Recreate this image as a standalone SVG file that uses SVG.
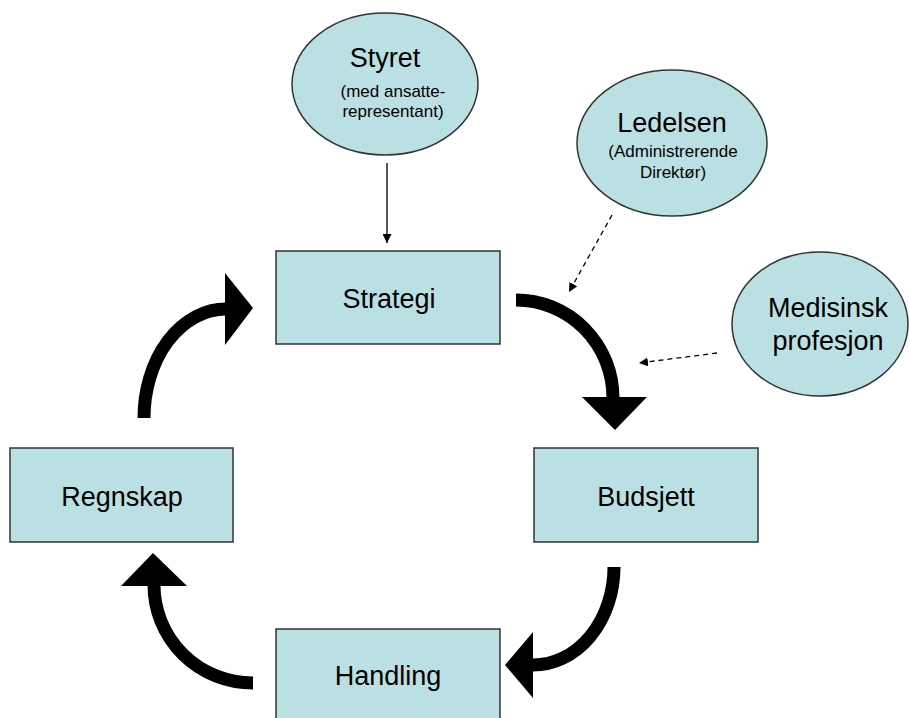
<svg xmlns="http://www.w3.org/2000/svg" width="909" height="718" viewBox="0 0 909 718">
<defs>
<style>
.box{fill:#bae0e3;stroke:#333;stroke-width:1.5}
.lbl{font-family:"Liberation Sans",Arial,sans-serif;fill:#000;text-anchor:middle}
.big{font-size:27px}
.small{font-size:17px}
.thick{fill:none;stroke:#000;stroke-width:13}
.thin{fill:none;stroke:#000;stroke-width:1.3}
.dash{fill:none;stroke:#000;stroke-width:1.3;stroke-dasharray:5,4}
</style>
<marker id="ah" viewBox="0 0 10 10" refX="10" refY="5" markerWidth="9" markerHeight="9" markerUnits="userSpaceOnUse" orient="auto">
<path d="M0,0 L10,5 L0,10 z" fill="#000"/>
</marker>
</defs>
<rect width="909" height="718" fill="#fff"/>
<g id="styret">
<ellipse class="box" cx="385" cy="84" rx="93" ry="71"/>
<text class="lbl big" x="385" y="67">Styret</text>
<text class="lbl small" x="393" y="97">(med ansatte-</text>
<text class="lbl small" x="393" y="117">representant)</text>
</g>
<g id="ledelsen">
<ellipse class="box" cx="672" cy="143" rx="95" ry="73"/>
<text class="lbl big" x="672" y="132">Ledelsen</text>
<text class="lbl small" x="673" y="157">(Administrerende</text>
<text class="lbl small" x="673" y="178">Direktør)</text>
</g>
<g id="medisinsk">
<ellipse class="box" cx="820" cy="324" rx="88" ry="72"/>
<text class="lbl big" x="828" y="317">Medisinsk</text>
<text class="lbl big" x="828" y="350">profesjon</text>
</g>
<g id="strategi">
<rect class="box" x="276" y="251" width="224" height="93"/>
<text class="lbl big" x="389" y="308">Strategi</text>
</g>
<g id="budsjett">
<rect class="box" x="534" y="448" width="224" height="94"/>
<text class="lbl big" x="646" y="506">Budsjett</text>
</g>
<g id="regnskap">
<rect class="box" x="10" y="448" width="223" height="94"/>
<text class="lbl big" x="122" y="506">Regnskap</text>
</g>
<g id="handling">
<rect class="box" x="276" y="629" width="224" height="95"/>
<text class="lbl big" x="388" y="685">Handling</text>
</g>
<g id="connectors">
<line class="thin" x1="387" y1="163" x2="387" y2="243" marker-end="url(#ah)"/>
<line class="dash" x1="612" y1="215" x2="569" y2="292" marker-end="url(#ah)"/>
<line class="dash" x1="717" y1="353" x2="639" y2="363" marker-end="url(#ah)"/>
<path class="thick" d="M516,300 A97,98 0 0 1 613,398"/>
<polygon points="582,397 647,397 615,430" fill="#000"/>
<path class="thick" d="M614,567 A81,98 0 0 1 533,665"/>
<polygon points="533,632 533,698 505,665" fill="#000"/>
<path class="thick" d="M253,683 A99,98 0 0 1 154,585"/>
<polygon points="121,586 187,586 153,553" fill="#000"/>
<path class="thick" d="M144,418 A82,109 0 0 1 226,309"/>
<polygon points="225,273 225,345 253,308" fill="#000"/>
</g>
</svg>
